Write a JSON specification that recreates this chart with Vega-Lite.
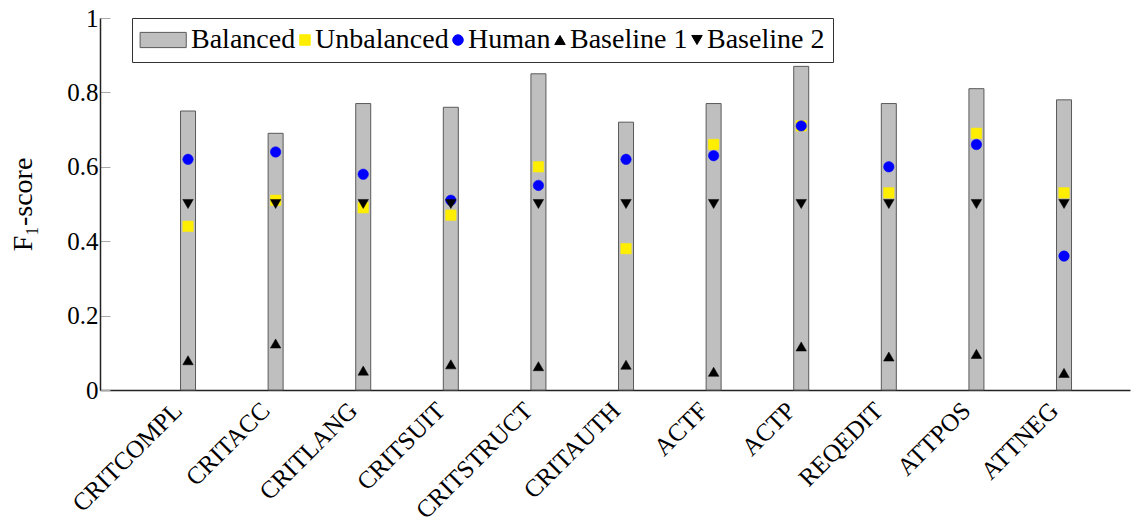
{
  "$schema": "https://vega.github.io/schema/vega-lite/v6.json",
  "width": 1030,
  "height": 372,
  "autosize": {"type": "none"},
  "padding": {"left": 100, "top": 18, "right": 17, "bottom": 142},
  "background": "white",
  "config": {
    "view": {"stroke": null},
    "font": "Liberation Serif",
    "axis": {"labelColor": "black", "titleColor": "black", "grid": false, "labelFont": "Liberation Serif", "titleFont": "Liberation Serif"},
    "legend": {"labelFont": "Liberation Serif", "titleFont": "Liberation Serif"}
  },
  "data": {
    "values": [
      {"cat": "CRITCOMPL", "series": "Balanced", "value": 0.75},
      {"cat": "CRITACC", "series": "Balanced", "value": 0.69},
      {"cat": "CRITLANG", "series": "Balanced", "value": 0.77},
      {"cat": "CRITSUIT", "series": "Balanced", "value": 0.76},
      {"cat": "CRITSTRUCT", "series": "Balanced", "value": 0.85},
      {"cat": "CRITAUTH", "series": "Balanced", "value": 0.72},
      {"cat": "ACTF", "series": "Balanced", "value": 0.77},
      {"cat": "ACTP", "series": "Balanced", "value": 0.87},
      {"cat": "REQEDIT", "series": "Balanced", "value": 0.77},
      {"cat": "ATTPOS", "series": "Balanced", "value": 0.81},
      {"cat": "ATTNEG", "series": "Balanced", "value": 0.78},
      {"cat": "CRITCOMPL", "series": "Unbalanced", "value": 0.44},
      {"cat": "CRITACC", "series": "Unbalanced", "value": 0.51},
      {"cat": "CRITLANG", "series": "Unbalanced", "value": 0.49},
      {"cat": "CRITSUIT", "series": "Unbalanced", "value": 0.47},
      {"cat": "CRITSTRUCT", "series": "Unbalanced", "value": 0.6},
      {"cat": "CRITAUTH", "series": "Unbalanced", "value": 0.38},
      {"cat": "ACTF", "series": "Unbalanced", "value": 0.66},
      {"cat": "ACTP", "series": "Unbalanced", "value": 0.71},
      {"cat": "REQEDIT", "series": "Unbalanced", "value": 0.53},
      {"cat": "ATTPOS", "series": "Unbalanced", "value": 0.69},
      {"cat": "ATTNEG", "series": "Unbalanced", "value": 0.53},
      {"cat": "CRITCOMPL", "series": "Human", "value": 0.62},
      {"cat": "CRITACC", "series": "Human", "value": 0.64},
      {"cat": "CRITLANG", "series": "Human", "value": 0.58},
      {"cat": "CRITSUIT", "series": "Human", "value": 0.51},
      {"cat": "CRITSTRUCT", "series": "Human", "value": 0.55},
      {"cat": "CRITAUTH", "series": "Human", "value": 0.62},
      {"cat": "ACTF", "series": "Human", "value": 0.63},
      {"cat": "ACTP", "series": "Human", "value": 0.71},
      {"cat": "REQEDIT", "series": "Human", "value": 0.6},
      {"cat": "ATTPOS", "series": "Human", "value": 0.66},
      {"cat": "ATTNEG", "series": "Human", "value": 0.36},
      {"cat": "CRITCOMPL", "series": "Baseline 1", "value": 0.08},
      {"cat": "CRITACC", "series": "Baseline 1", "value": 0.125},
      {"cat": "CRITLANG", "series": "Baseline 1", "value": 0.052},
      {"cat": "CRITSUIT", "series": "Baseline 1", "value": 0.069},
      {"cat": "CRITSTRUCT", "series": "Baseline 1", "value": 0.064},
      {"cat": "CRITAUTH", "series": "Baseline 1", "value": 0.068},
      {"cat": "ACTF", "series": "Baseline 1", "value": 0.049},
      {"cat": "ACTP", "series": "Baseline 1", "value": 0.117},
      {"cat": "REQEDIT", "series": "Baseline 1", "value": 0.09},
      {"cat": "ATTPOS", "series": "Baseline 1", "value": 0.097},
      {"cat": "ATTNEG", "series": "Baseline 1", "value": 0.046},
      {"cat": "CRITCOMPL", "series": "Baseline 2", "value": 0.5},
      {"cat": "CRITACC", "series": "Baseline 2", "value": 0.5},
      {"cat": "CRITLANG", "series": "Baseline 2", "value": 0.5},
      {"cat": "CRITSUIT", "series": "Baseline 2", "value": 0.5},
      {"cat": "CRITSTRUCT", "series": "Baseline 2", "value": 0.5},
      {"cat": "CRITAUTH", "series": "Baseline 2", "value": 0.5},
      {"cat": "ACTF", "series": "Baseline 2", "value": 0.5},
      {"cat": "ACTP", "series": "Baseline 2", "value": 0.5},
      {"cat": "REQEDIT", "series": "Baseline 2", "value": 0.5},
      {"cat": "ATTPOS", "series": "Baseline 2", "value": 0.5},
      {"cat": "ATTNEG", "series": "Baseline 2", "value": 0.5}
    ]
  },
  "encoding": {
    "x": {
      "field": "cat", "type": "nominal", "sort": null,
      "scale": {"type": "band", "paddingInner": 0, "paddingOuter": 0.379, "align": 0.666},
      "axis": {"title": null, "ticks": false, "labelAngle": -45, "labelAlign": "right", "labelBaseline": "middle", "labelFontSize": 25, "labelPadding": 16, "labelOffset": -10, "domainColor": "#222", "domainWidth": 1.5}
    },
    "y": {
      "field": "value", "type": "quantitative",
      "scale": {"domain": [0, 1], "nice": false, "zero": true},
      "axis": {"title": "F₁-score", "titleFontWeight": "normal", "titleFontSize": 28, "titlePadding": 29, "values": [0, 0.2, 0.4, 0.6, 0.8, 1], "format": "~g", "labelFontSize": 25, "tickSize": -10, "tickColor": "#aaa", "labelPadding": 12, "domainColor": "#222", "domainWidth": 1.5, "labelBaseline": "middle"}
    }
  },
  "layer": [
    {
      "transform": [{"filter": "datum.series === 'Balanced'"}],
      "mark": {"type": "bar", "size": 15, "fill": "#bfbfbf", "stroke": "#5a5a5a", "strokeWidth": 1}
    },
    {
      "transform": [{"filter": "datum.series !== 'Balanced'"}],
      "mark": {"type": "point", "filled": true, "opacity": 1, "strokeWidth": 0.5},
      "encoding": {
        "color": {
          "field": "series", "type": "nominal",
          "scale": {"domain": ["Balanced", "Unbalanced", "Human", "Baseline 1", "Baseline 2"], "range": ["#bfbfbf", "#ffee00", "#0000ff", "#000000", "#000000"]},
          "legend": {"title": " ", "titleOrient": "left", "titleFontSize": 4, "titlePadding": 27, "orient": "none", "legendX": 32, "legendY": 0, "direction": "horizontal", "gridAlign": "none", "labelFontSize": 28, "labelColor": "black", "labelOffset": -4, "columnPadding": -5, "padding": 8, "strokeColor": "#333", "fillColor": "white", "symbolStrokeWidth": 1, "symbolOpacity": 1}
        },
        "stroke": {
          "field": "series", "type": "nominal",
          "scale": {"domain": ["Balanced", "Unbalanced", "Human", "Baseline 1", "Baseline 2"], "range": ["#5a5a5a", "#ffee00", "#0000ff", "#000000", "#000000"]},
          "legend": null
        },
        "size": {
          "field": "series", "type": "nominal",
          "scale": {"domain": ["Balanced", "Unbalanced", "Human", "Baseline 1", "Baseline 2"], "range": [110, 110, 125, 165, 165]},
          "legend": null
        },
        "shape": {
          "field": "series", "type": "nominal",
          "scale": {"domain": ["Balanced", "Unbalanced", "Human", "Baseline 1", "Baseline 2"], "range": ["M-7.8,-1.45H1V1.45H-7.8Z", "square", "circle", "triangle-up", "triangle-down"]},
          "legend": {"title": " ", "titleOrient": "left", "orient": "none", "legendX": 32, "legendY": 0, "direction": "horizontal", "gridAlign": "none"}
        }
      }
    }
  ]
}
